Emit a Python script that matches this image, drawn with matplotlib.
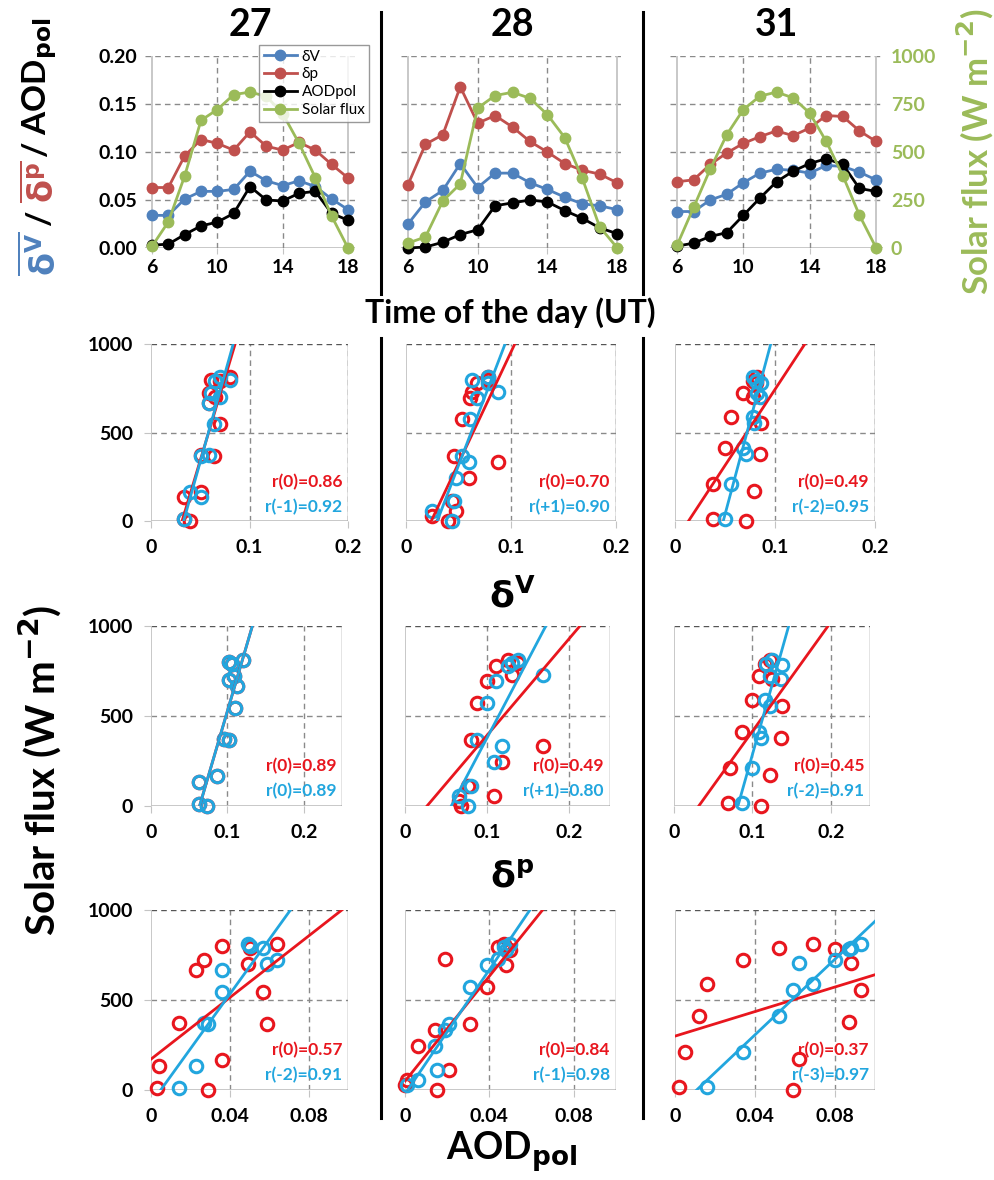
import numpy as np
import matplotlib.pyplot as plt
from matplotlib.lines import Line2D

plt.rcParams['font.family'] = ['Lato', 'DejaVu Sans']
plt.rcParams['font.weight'] = 'bold'
plt.rcParams['mathtext.fontset'] = 'dejavusans'
plt.rcParams['mathtext.default'] = 'bf'

# ---- data ----
hours = [6, 7, 8, 9, 10, 11, 12, 13, 14, 15, 16, 17, 18]
days = ['27', '28', '31']

dv27 = [0.034, 0.034, 0.051, 0.059, 0.059, 0.061, 0.080, 0.070, 0.065, 0.070, 0.064, 0.051, 0.040]
dp27 = [0.063, 0.063, 0.096, 0.113, 0.109, 0.102, 0.121, 0.106, 0.102, 0.110, 0.102, 0.087, 0.073]
aod27 = [0.003, 0.004, 0.014, 0.023, 0.027, 0.036, 0.064, 0.050, 0.049, 0.057, 0.059, 0.036, 0.029]
sf27 = [9, 136, 375, 665, 721, 799, 812, 790, 700, 546, 366, 166, 0]

dv28 = [0.025, 0.048, 0.060, 0.088, 0.063, 0.078, 0.078, 0.068, 0.061, 0.053, 0.046, 0.044, 0.040]
dp28 = [0.066, 0.108, 0.118, 0.168, 0.130, 0.138, 0.126, 0.111, 0.100, 0.088, 0.081, 0.077, 0.068]
aod28 = [0.000, 0.001, 0.006, 0.014, 0.019, 0.044, 0.047, 0.050, 0.048, 0.039, 0.031, 0.021, 0.015]
sf28 = [26, 57, 245, 334, 729, 794, 811, 780, 695, 575, 365, 111, 2]

dv31 = [0.038, 0.038, 0.050, 0.056, 0.068, 0.078, 0.082, 0.081, 0.078, 0.086, 0.085, 0.079, 0.071]
dp31 = [0.069, 0.071, 0.087, 0.099, 0.109, 0.116, 0.122, 0.117, 0.125, 0.138, 0.137, 0.122, 0.111]
aod31 = [0.002, 0.005, 0.012, 0.016, 0.034, 0.052, 0.069, 0.080, 0.088, 0.093, 0.087, 0.062, 0.059]
sf31 = [14, 211, 410, 590, 721, 791, 812, 782, 703, 555, 377, 171, 2]

# time lags (hours) of the blue fits, per row (dV, dp, AOD) and day
lags_dv = [-1, 1, -2]
lags_dp = [0, 1, -2]
lags_aod = [-2, -1, -3]

r_dv = [('r(0)=0.86', 'r(-1)=0.92'), ('r(0)=0.70', 'r(+1)=0.90'), ('r(0)=0.49', 'r(-2)=0.95')]
r_dp = [('r(0)=0.89', 'r(0)=0.89'), ('r(0)=0.49', 'r(+1)=0.80'), ('r(0)=0.45', 'r(-2)=0.91')]
r_aod = [('r(0)=0.57', 'r(-2)=0.91'), ('r(0)=0.84', 'r(-1)=0.98'), ('r(0)=0.37', 'r(-3)=0.97')]

dv = [dv27, dv28, dv31]
dp = [dp27, dp28, dp31]
aod = [aod27, aod28, aod31]
sf = [sf27, sf28, sf31]

C_BLUE = '#4f81bd'
C_RED = '#c0504d'
C_GREEN = '#9bbb59'
S_RED = '#e8161e'
S_BLUE = '#22a6de'
GRID = '#8a8a8a'
AXIS = '#c4c4c4'

W, H = 995, 1180


def rect(l, t, r, b):
    return [l / W, 1 - b / H, (r - l) / W, (b - t) / H]


def lagged(x, y, k):
    # pair flux(t) with x(t-k)
    x = np.asarray(x); y = np.asarray(y)
    if k < 0:
        return x[-k:], y[:k]
    if k > 0:
        return x[:-k], y[k:]
    return x, y


fig = plt.figure(figsize=(9.95, 11.8), dpi=100)

# ---- top row: time series ----
top_x = [(152, 348), (408, 617), (677, 876)]
handles = None
for i, d in enumerate(days):
    x6, x18 = top_x[i]
    ppu = (x18 - x6) / 12
    ax = fig.add_axes(rect(x6 - 0.4 * ppu, 56, x18 + 0.4 * ppu, 248))
    ax.set_xlim(5.6, 18.4)
    ax.set_ylim(0, 0.2)
    for s in ax.spines.values():
        s.set_visible(False)
    for yv in [0.05, 0.1, 0.15, 0.2]:
        ax.axhline(yv, color=GRID, ls=(0, (4, 3)), lw=1, zorder=0)
    ax.axhline(0, color=AXIS, lw=1.3, zorder=0)
    for xv in [10, 14]:
        ax.axvline(xv, color=GRID, ls=(0, (4, 3)), lw=1, zorder=0)
    ax.axvline(6, color=AXIS, lw=1.3, zorder=0)
    ax.axvline(18, color=AXIS, lw=1.3, zorder=0)
    l1, = ax.plot(hours, dv[i], '-o', color=C_BLUE, lw=2, ms=7.5, clip_on=False, label='δV')
    l2, = ax.plot(hours, dp[i], '-o', color=C_RED, lw=2, ms=7.5, clip_on=False, label='δp')
    l3, = ax.plot(hours, aod[i], '-o', color='black', lw=2, ms=7.5, clip_on=False, label='AODpol')
    ax2 = ax.twinx()
    ax2.set_ylim(0, 1000)
    for s in ax2.spines.values():
        s.set_visible(False)
    l4, = ax2.plot(hours, sf[i], '-o', color=C_GREEN, lw=2, ms=7.5, clip_on=False, label='Solar flux')
    ax.set_xticks([6, 10, 14, 18])
    ax.tick_params(axis='x', length=4, color=AXIS, labelsize=14, pad=4)
    if i == 0:
        ax.set_yticks([0, 0.05, 0.1, 0.15, 0.2])
        ax.set_yticklabels(['%.2f' % v for v in [0, 0.05, 0.1, 0.15, 0.2]])
        ax.tick_params(axis='y', length=0, labelsize=14, pad=6)
        handles = [l1, l2, l3, l4]
    else:
        ax.set_yticks([])
    if i == 2:
        ax2.set_yticks([0, 250, 500, 750, 1000])
        ax2.tick_params(axis='y', length=0, labelsize=14, labelcolor=C_GREEN, pad=6)
    else:
        ax2.set_yticks([])
    fig.text((x6 + x18) / 2 / W, 1 - 25 / H, d, ha='center', va='center', fontsize=27)

leg = fig.legend(handles=handles, loc='upper left', bbox_to_anchor=(259 / W, 1 - 45 / H),
                 frameon=True, fancybox=False, edgecolor='#808080',
                 borderpad=0.3, handlelength=2.2, labelspacing=0.25, handletextpad=0.3,
                 borderaxespad=0, prop={'weight': 'normal', 'size': 11})
leg.get_frame().set_linewidth(1)

# ---- scatter rows ----
rows = [
    (dv, lags_dv, r_dv, (0, 0.2), [0, 0.1, 0.2], ['0', '0.1', '0.2'],
     344, 521, [(151, 348), (406, 616), (675, 875)]),
    (dp, lags_dp, r_dp, (0, 0.25), [0, 0.1, 0.2], ['0', '0.1', '0.2'],
     626, 806, [(151, 342), (405, 610), (674, 870)]),
    (aod, lags_aod, r_aod, (0, 0.1), [0, 0.04, 0.08], ['0', '0.04', '0.08'],
     910, 1090, [(151, 348), (405, 616), (675, 875)]),
]

for data, lags, rlab, xlim, xt, xtl, top, bot, cols in rows:
    for i in range(3):
        l, r = cols[i]
        sax = fig.add_axes(rect(l, top, r, bot))
        sax.set_xlim(*xlim)
        sax.set_ylim(0, 1000)
        for s in sax.spines.values():
            s.set_visible(False)
        for xv in xt[1:]:
            sax.axvline(xv, color=GRID, ls=(0, (4, 3)), lw=1, zorder=0)
        sax.axhline(500, color=GRID, ls=(0, (4, 3)), lw=1, zorder=0)
        sax.axhline(1000, color='#555555', ls=(0, (4, 3)), lw=1, zorder=0)
        sax.axhline(0, color=AXIS, lw=1.3, zorder=0)
        sax.axvline(xlim[0], color=AXIS, lw=1.3, zorder=0)
        sax.axvline(xlim[1], color='#777777', lw=1, zorder=0)

        xr, yr = lagged(data[i], sf[i], 0)
        xb, yb = lagged(data[i], sf[i], lags[i])
        sax.plot(xr, yr, 'o', mfc='none', mec=S_RED, mew=2.2, ms=9, clip_on=False, zorder=3)
        sax.plot(xb, yb, 'o', mfc='none', mec=S_BLUE, mew=2.2, ms=9, clip_on=False, zorder=3)
        xx = np.array(xlim)
        pr = np.polyfit(xr, yr, 1)
        pb = np.polyfit(xb, yb, 1)
        sax.plot(xx, np.polyval(pr, xx), color=S_RED, lw=2, zorder=4)
        sax.plot(xx, np.polyval(pb, xx), color=S_BLUE, lw=2, zorder=4)

        sax.text(0.97, 0.22, rlab[i][0], transform=sax.transAxes, ha='right', va='center',
                 color=S_RED, fontsize=12.5, zorder=5)
        sax.text(0.97, 0.08, rlab[i][1], transform=sax.transAxes, ha='right', va='center',
                 color=S_BLUE, fontsize=12.5, zorder=5)

        sax.set_xticks(xt)
        sax.set_xticklabels(xtl)
        sax.tick_params(axis='x', length=5, color=AXIS, labelsize=14, pad=8)
        sax.set_yticks([0, 500, 1000])
        if i == 0:
            sax.tick_params(axis='y', length=5, color=AXIS, labelsize=14, pad=8)
        else:
            sax.set_yticklabels([])
            sax.tick_params(axis='y', length=0)

# ---- separators ----
for xs in [381, 643]:
    fig.add_artist(Line2D([xs / W] * 2, [1 - 12 / H, 1 - 294 / H], color='black', lw=2.2))
    fig.add_artist(Line2D([xs / W] * 2, [1 - 338 / H, 1 - 1118 / H], color='black', lw=2.2))

# ---- axis titles ----
fig.text(510 / W, 1 - 313 / H, 'Time of the day (UT)', ha='center', va='center', fontsize=23)
fig.text(512 / W, 1 - 595 / H, r'$\delta^{V}$', ha='center', va='center', fontsize=26)
fig.text(512 / W, 1 - 876 / H, r'$\delta^{p}$', ha='center', va='center', fontsize=26)
fig.text(512 / W, 1 - 1152 / H, r'AOD$_{pol}$', ha='center', va='center', fontsize=27)
fig.text(40 / W, 1 - 770 / H, r'Solar flux (W m$^{-2}$)', ha='center', va='center',
         rotation=90, fontsize=29)
fig.text(975 / W, 1 - 152 / H, r'Solar flux (W m$^{-2}$)', ha='center', va='center',
         rotation=90, fontsize=25, color=C_GREEN)

# multi-coloured top-left label, bottom to top
fig.text(40 / W, 1 - 254 / H, r'$\overline{\delta^{V}}$', ha='center', va='center',
         rotation=90, fontsize=24, color=C_BLUE)
fig.text(40 / W, 1 - 218 / H, '/', ha='center', va='center', rotation=90, fontsize=24)
fig.text(40 / W, 1 - 182 / H, r'$\overline{\delta^{p}}$', ha='center', va='center',
         rotation=90, fontsize=24, color=C_RED)
fig.text(40 / W, 1 - 88 / H, r'/ AOD$_{pol}$', ha='center', va='center',
         rotation=90, fontsize=24)

fig.savefig('out.png', dpi=100)
